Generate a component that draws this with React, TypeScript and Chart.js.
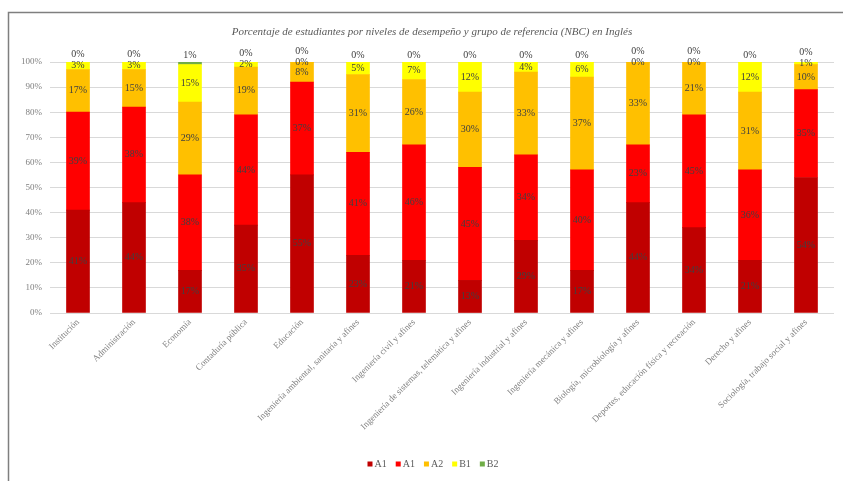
import React, { useEffect, useRef } from "react";
import { Chart, registerables } from "chart.js";
Chart.register(...registerables);

const chartTitle =
  "Porcentaje de estudiantes por niveles de desempeño y grupo de referencia (NBC) en Inglés";

const categories = [
  "Institución",
  "Administración",
  "Economía",
  "Contaduría pública",
  "Educación",
  "Ingeniería ambiental, sanitaria y afines",
  "Ingeniería civil y afines",
  "Ingeniería de sistemas, telemática y afines",
  "Ingeniería industrial y afines",
  "Ingeniería mecánica y afines",
  "Biología, microbiología y afines",
  "Deportes, educación física y recreación",
  "Derecho y afines",
  "Sociología, trabajo social y afines",
];

const seriesA1Low = [41, 44, 17, 35, 55, 23, 21, 13, 29, 17, 44, 34, 21, 54];
const seriesA1 = [39, 38, 38, 44, 37, 41, 46, 45, 34, 40, 23, 45, 36, 35];
const seriesA2 = [17, 15, 29, 19, 8, 31, 26, 30, 33, 37, 33, 21, 31, 10];
const seriesB1 = [3, 3, 15, 2, 0, 5, 7, 12, 4, 6, 0, 0, 12, 1];
const seriesB2 = [0, 0, 1, 0, 0, 0, 0, 0, 0, 0, 0, 0, 0, 0];

const seriesLabels = ["A1", "A1", "A2", "B1", "B2"];
const seriesColors = ["#C00000", "#FF0000", "#FFC000", "#FFFF00", "#70AD47"];

const yTickValues = [0, 10, 20, 30, 40, 50, 60, 70, 80, 90, 100];

const SERIF = "'Liberation Serif', 'Times New Roman', serif";

const overlayPlugin = {
  id: "overlay",
  afterDatasetsDraw(chart: any) {
    const ctx = chart.ctx;
    ctx.save();
    ctx.font = `10px ${SERIF}`;
    ctx.fillStyle = "#404040";
    ctx.textAlign = "center";
    ctx.textBaseline = "middle";
    const n = chart.data.labels.length;
    for (let j = 0; j < n; j++) {
      let b1LabelY = 0;
      for (let i = 0; i < chart.data.datasets.length; i++) {
        const meta = chart.getDatasetMeta(i);
        const el: any = meta.data[j];
        const v = chart.data.datasets[i].data[j];
        let y = (el.y + el.base) / 2;
        if (i === 3) b1LabelY = y;
        if (i === 4) {
          const top = Math.min(el.y, el.base);
          y = Math.min(top - 7, b1LabelY - 11);
        }
        ctx.fillText(v + "%", el.x, y);
      }
    }
    ctx.restore();
  },
  afterDraw(chart: any) {
    const ctx = chart.ctx;
    ctx.save();
    // frame
    ctx.strokeStyle = "#7f7f7f";
    ctx.lineWidth = 1.5;
    ctx.beginPath();
    ctx.moveTo(8.5, 481);
    ctx.lineTo(8.5, 12.5);
    ctx.lineTo(843, 12.5);
    ctx.stroke();
    // title
    ctx.font = `italic 11px ${SERIF}`;
    ctx.fillStyle = "#595959";
    ctx.textAlign = "center";
    ctx.textBaseline = "middle";
    ctx.fillText(chartTitle, 432, 32);
    // legend
    ctx.font = `10px ${SERIF}`;
    ctx.textAlign = "left";
    const box = 5;
    const gap = 2;
    const itemGap = 9;
    const ds = chart.data.datasets;
    const widths = ds.map((d: any) => box + gap + ctx.measureText(d.label).width);
    const total = widths.reduce((a: number, b: number) => a + b, 0) + itemGap * (ds.length - 1);
    let x = 433 - total / 2;
    const ly = 464;
    ds.forEach((d: any, i: number) => {
      ctx.fillStyle = d.backgroundColor;
      ctx.fillRect(x, ly - box / 2, box, box);
      ctx.fillStyle = "#595959";
      ctx.fillText(d.label, x + box + gap, ly + 0.5);
      x += widths[i] + itemGap;
    });
    ctx.restore();
  },
};

export default function App() {
  const ref = useRef<HTMLCanvasElement | null>(null);
  useEffect(() => {
    if (!ref.current) return;
    const series = [seriesA1Low, seriesA1, seriesA2, seriesB1, seriesB2];
    const chart = new Chart(ref.current, {
      type: "bar",
      data: {
        labels: categories,
        datasets: series.map((s, i) => ({
          label: seriesLabels[i],
          data: s,
          backgroundColor: seriesColors[i],
          borderWidth: 0,
          barThickness: 23,
        })),
      },
      options: {
        responsive: false,
        animation: false,
        layout: { padding: { top: 62, left: 0, right: 9, bottom: 8 } },
        plugins: {
          legend: { display: false },
          title: { display: false },
          tooltip: { enabled: false },
        },
        scales: {
          x: {
            stacked: true,
            grid: { display: false, drawTicks: false },
            border: { display: false },
            ticks: {
              autoSkip: false,
              minRotation: 45,
              maxRotation: 45,
              padding: 4,
              color: "#7f7f7f",
              font: { family: SERIF, size: 9 },
            },
            afterFit(scale: any) {
              scale.height = 160;
            },
          },
          y: {
            stacked: true,
            min: 0,
            max: 100,
            afterBuildTicks(scale: any) {
              scale.ticks = yTickValues.map((v) => ({ value: v }));
            },
            grid: { color: "#d9d9d9", drawTicks: false, lineWidth: 1 },
            border: { display: false },
            ticks: {
              padding: 8,
              color: "#7f7f7f",
              font: { family: SERIF, size: 9 },
              callback: (v: any) => v + "%",
            },
            afterFit(scale: any) {
              scale.width = 50;
            },
          },
        },
      },
      plugins: [overlayPlugin],
    });
    return () => chart.destroy();
  }, []);
  return (
    <div style={{ position: "fixed", left: 0, top: 0, width: 843, height: 481, background: "#fff" }}>
      <canvas ref={ref} width={843} height={481} style={{ width: 843, height: 481 }} />
    </div>
  );
}
